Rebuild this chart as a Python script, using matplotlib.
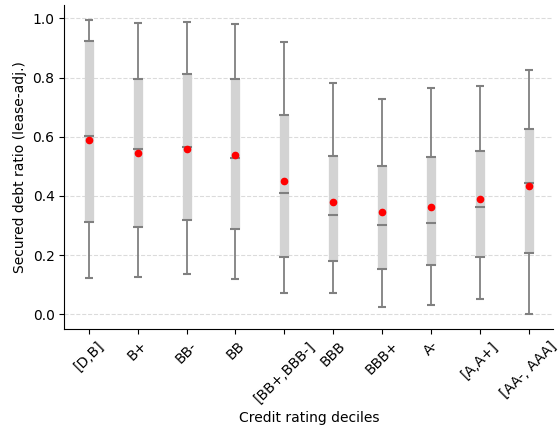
import matplotlib.pyplot as plt

# quantiles per rating bucket
labels = ['[D,B]', 'B+', 'BB-', 'BB', '[BB+,BBB-]', 'BBB', 'BBB+', 'A-', '[A,A+]', '[AA-, AAA]']
whis_lo = [0.121, 0.126, 0.136, 0.119, 0.071, 0.071, 0.024, 0.031, 0.051, 0.000]
q1 = [0.312, 0.295, 0.317, 0.288, 0.195, 0.180, 0.152, 0.166, 0.194, 0.207]
median = [0.604, 0.559, 0.565, 0.529, 0.411, 0.337, 0.301, 0.310, 0.362, 0.445]
q3 = [0.923, 0.795, 0.813, 0.795, 0.674, 0.536, 0.500, 0.531, 0.553, 0.626]
whis_hi = [0.995, 0.986, 0.989, 0.980, 0.919, 0.781, 0.727, 0.765, 0.771, 0.826]
mean = [0.588, 0.546, 0.559, 0.538, 0.449, 0.381, 0.346, 0.363, 0.391, 0.435]

fig, ax = plt.subplots(figsize=(5.59, 4.34), dpi=100)
x = list(range(len(labels)))

ax.vlines(x, whis_lo, whis_hi, color='grey', lw=1.3, zorder=2)
ax.vlines(x, q1, q3, color='lightgrey', lw=6.7, zorder=3)
# whisker caps
for vals in (whis_lo, whis_hi):
    ax.plot(x, vals, ls='none', marker='_', ms=5.6, mew=1.5, color='grey', zorder=4)
# box edges and median
for vals in (q1, q3, median):
    ax.plot(x, vals, ls='none', marker='_', ms=6.7, mew=1.5, color='grey', zorder=4)
ax.plot(x, mean, ls='none', marker='o', ms=4.5, color='red', zorder=5)

ax.set_xticks(x)
ax.set_xticklabels(labels, rotation=45)
ax.set_xlim(-0.5, len(labels) - 0.5)
ax.set_xlabel('Credit rating deciles')
ax.set_ylabel('Secured debt ratio (lease-adj.)')
ax.yaxis.grid(True, ls='--', color='lightgrey', alpha=0.8)
ax.set_axisbelow(True)
ax.spines['top'].set_visible(False)
ax.spines['right'].set_visible(False)

plt.subplots_adjust(left=0.115, right=0.99, bottom=0.242, top=0.988)
plt.savefig('out.png')
